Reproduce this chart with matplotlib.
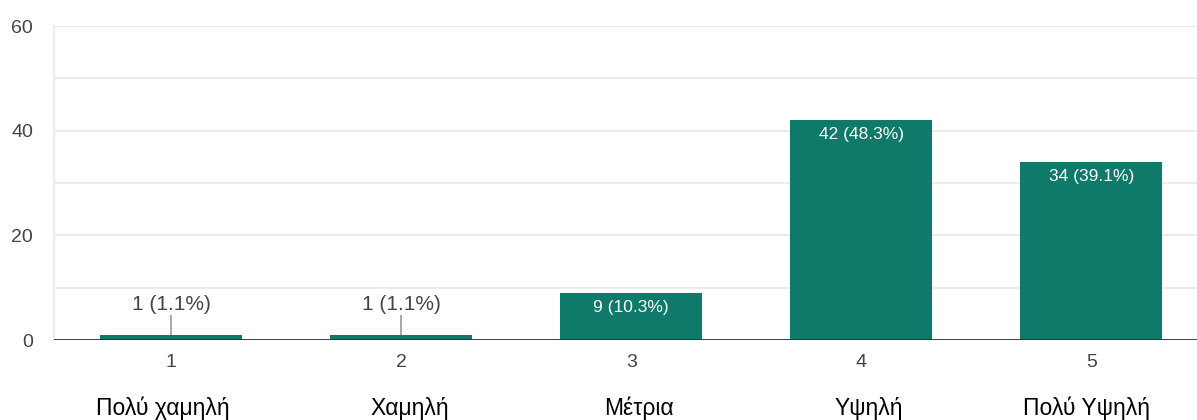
import numpy as np
import matplotlib.pyplot as plt

plt.rcParams['font.family'] = ['Liberation Sans', 'DejaVu Sans']

# survey answers on a 1-5 scale
scale = ['1', '2', '3', '4', '5']
names = ['Πολύ χαμηλή', 'Χαμηλή', 'Μέτρια', 'Υψηλή', 'Πολύ Υψηλή']
counts = [1, 1, 9, 42, 34]
pcts = [1.1, 1.1, 10.3, 48.3, 39.1]

bar_color = '#0f7a6a'
grid_color = '#ececec'
text_color = '#444444'
# the names were typed in by hand, so they sit a little off-centre
name_shift = [-8, 9, 8, 8, -5]

fig = plt.figure(figsize=(11.97, 4.2), dpi=100)
ax = fig.add_axes([0.045, 0.19, 0.955, 0.748])

x = np.arange(len(counts))
ax.bar(x, counts, width=0.62, color=bar_color, zorder=3)

ax.set_ylim(0, 60)
ax.set_xlim(-0.51, 4.46)
ax.set_yticks([0, 20, 40, 60])
ax.set_yticks(np.arange(0, 61, 10), minor=True)
ax.grid(axis='y', which='both', color=grid_color, lw=1.5, zorder=0)
ax.tick_params(axis='y', which='both', length=0, pad=15, labelsize=14, labelcolor=text_color)
ax.set_xticks(x)
ax.set_xticklabels(scale)
ax.tick_params(axis='x', length=0, pad=10, labelsize=14, labelcolor=text_color)

for side in ['top', 'right', 'bottom']:
    ax.spines[side].set_visible(False)
ax.spines['left'].set_color(grid_color)
ax.spines['left'].set_linewidth(1.5)
ax.axhline(0, color='#333333', lw=2, zorder=4)

# value labels: inside tall bars, above short ones with a leader line
for i, (c, p) in enumerate(zip(counts, pcts)):
    label = f'{c} ({p}%)'
    if c >= 5:
        ax.annotate(label, (i, c), xytext=(0, -5), textcoords='offset points',
                    ha='center', va='top', color='white', fontsize=12.5, zorder=5)
    else:
        ax.vlines(i, c, c + 3.8, color='#999999', lw=1.2, zorder=4)
        ax.annotate(label, (i, c + 4.0), xytext=(0, 0), textcoords='offset points',
                    ha='center', va='bottom', color=text_color, fontsize=15, zorder=5)

# category names under the scale numbers
for i, n in enumerate(names):
    ax.annotate(n, (i, 0), xycoords=('data', 'axes fraction'),
                xytext=(name_shift[i] * 0.72, -49), textcoords='offset points',
                ha='center', va='center', fontsize=16.5, color='black')

fig.savefig('out.png', dpi=100)
